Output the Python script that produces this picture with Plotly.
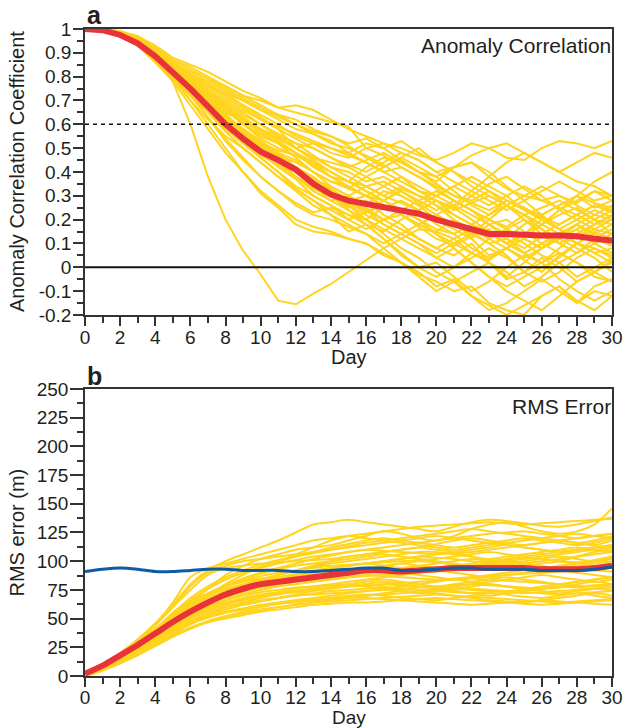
import plotly.graph_objects as go

DAYS = list(range(31))

# ---- Panel a: anomaly correlation (ensemble members, daily values day 0..30)
ACC_MEMBERS = [
    [1,1,.99,.97,.93,.88,.85,.82,.78,.74, .71,.67,.68,.66,.62,.58,.55,.52,.50,.47, .45,.48,.52,.50,.46,.45,.50,.53,.52,.50,.53],
    [1,1,.99,.96,.92,.87,.84,.80,.76,.72, .70,.67,.65,.63,.61,.59,.50,.52,.48,.45, .40,.42,.44,.38,.33,.30,.28,.30,.27,.32,.30],
    [1,.995,.98,.95,.89,.83,.77,.70,.64,.58, .52,.48,.45,.40,.36,.34,.30,.28,.32,.27, .22,.18,.15,.10,.12,.08,.13,.10,.14,.12,.09],
    [1,.99,.97,.93,.86,.78,.68,.58,.48,.40, .32,.26,.20,.17,.15,.12,.10,.05,.02,-.03, -.06,-.10,-.08,-.15,-.18,-.20,-.12,-.08,-.15,-.10,-.12],
    [1,.995,.98,.95,.89,.78,.60,.38,.20,.07, -.03,-.14,-.155,-.11,-.07,-.02,.03,.08,.12,.16, .15,.20,.12,.05,.08,.03,-.02,.05,.10,.06,.02],
    [1,1,.99,.96,.91,.85,.80,.76,.72,.68, .64,.60,.55,.52,.50,.48,.52,.50,.45,.40, .35,.30,.28,.32,.26,.22,.18,.22,.25,.20,.24],
    [1,.99,.98,.94,.88,.81,.74,.66,.60,.55, .50,.46,.40,.35,.30,.25,.28,.22,.18,.12, .08,.05,.10,.02,-.05,-.02,.04,.00,-.06,-.02,.03],
    [1,1,.98,.95,.90,.84,.79,.73,.68,.62, .58,.55,.52,.47,.42,.40,.36,.38,.34,.30, .28,.25,.30,.35,.38,.33,.28,.25,.22,.18,.20],
    [1,.99,.97,.93,.87,.80,.72,.63,.54,.46, .38,.32,.27,.23,.25,.22,.18,.15,.20,.24, .28,.25,.20,.15,.12,.18,.22,.26,.30,.25,.28],
    [1,1,.99,.96,.91,.86,.81,.78,.74,.70, .66,.62,.58,.56,.53,.48,.44,.40,.42,.38, .33,.28,.24,.20,.17,.22,.18,.14,.10,.15,.12],
    [1,.995,.98,.95,.89,.82,.75,.68,.63,.57, .50,.45,.38,.32,.28,.30,.25,.20,.22,.18, .15,.12,.06,.02,-.04,.02,.08,.12,.08,.04,-.02],
    [1,.99,.97,.94,.88,.80,.70,.60,.50,.40, .31,.25,.18,.15,.14,.12,.10,.06,.02,-.02, -.08,-.05,-.12,-.18,-.15,-.10,-.05,-.10,-.15,-.08,-.05],
    [1,1,.98,.96,.91,.85,.79,.75,.71,.67, .62,.58,.50,.46,.44,.42,.45,.48,.44,.40, .38,.42,.47,.50,.52,.48,.44,.40,.36,.34,.30],
    [1,.99,.98,.95,.90,.83,.76,.70,.63,.58, .53,.47,.44,.40,.34,.30,.26,.32,.30,.26, .20,.16,.12,.18,.14,.10,.05,.02,.06,.12,.16],
    [1,1,.99,.96,.92,.86,.80,.74,.67,.60, .55,.52,.48,.44,.38,.33,.30,.26,.22,.18, .22,.26,.22,.18,.20,.15,.10,.14,.18,.22,.20],
    [1,.99,.97,.93,.86,.79,.70,.62,.55,.50, .44,.38,.32,.26,.22,.15,.18,.12,.05,.00, .02,-.04,-.10,-.06,.00,.05,.02,-.05,-.10,-.14,-.10],
    [1,.995,.98,.95,.90,.84,.78,.71,.64,.57, .52,.49,.47,.44,.40,.36,.34,.30,.27,.24, .28,.22,.18,.15,.10,.14,.20,.16,.12,.18,.22],
    [1,1,.99,.97,.92,.86,.80,.76,.73,.70, .66,.64,.60,.56,.52,.50,.47,.43,.38,.32, .28,.24,.27,.30,.26,.22,.25,.28,.24,.20,.18],
    [1,.99,.97,.94,.88,.81,.73,.66,.60,.54, .48,.42,.37,.30,.26,.22,.20,.25,.28,.24, .18,.14,.08,.04,.08,.12,.08,.14,.18,.12,.10],
    [1,.995,.98,.95,.89,.83,.76,.69,.62,.55, .47,.43,.38,.33,.30,.28,.24,.18,.14,.10, .06,.10,.14,.10,.05,-.02,-.06,-.02,.04,.08,.05],
    [1,1,.98,.96,.91,.86,.82,.79,.76,.72, .68,.64,.62,.58,.55,.51,.46,.42,.46,.50, .44,.40,.34,.30,.26,.20,.14,.18,.22,.26,.24],
    [1,.99,.97,.93,.87,.80,.74,.68,.63,.58, .53,.48,.42,.38,.32,.27,.23,.26,.22,.17, .12,.09,.13,.16,.10,.06,.10,.14,.10,.06,.08],
    [1,.995,.98,.95,.90,.84,.77,.70,.62,.57, .52,.46,.40,.37,.34,.30,.34,.36,.32,.28, .24,.28,.24,.20,.16,.12,.08,.12,.16,.10,.06],
    [1,1,.99,.96,.91,.85,.79,.72,.66,.60, .54,.50,.47,.43,.38,.34,.30,.26,.22,.18, .14,.10,.06,.03,.08,.14,.18,.24,.20,.16,.20],
    [1,.99,.97,.94,.88,.82,.75,.68,.61,.55, .50,.44,.38,.34,.30,.26,.22,.18,.14,.10, .04,.00,.04,.08,.04,-.02,.02,.06,.02,-.04,-.06],
    [1,.995,.98,.95,.90,.84,.78,.72,.66,.60, .56,.52,.46,.40,.36,.33,.38,.42,.46,.42, .38,.32,.26,.22,.26,.30,.34,.30,.26,.22,.26],
    [1,.99,.97,.94,.88,.81,.74,.67,.62,.56, .50,.45,.40,.34,.28,.24,.20,.16,.12,.08, .04,.08,.02,-.04,-.10,-.14,-.18,-.12,-.06,-.02,.02],
    [1,1,.99,.96,.92,.86,.80,.74,.69,.64, .60,.55,.50,.46,.42,.38,.34,.30,.34,.30, .26,.20,.16,.12,.16,.20,.16,.12,.16,.20,.14],
    [1,.99,.98,.94,.89,.82,.75,.67,.60,.53, .46,.40,.33,.28,.22,.18,.14,.10,.14,.18, .22,.18,.14,.20,.26,.22,.16,.10,.06,.10,.14],
    [1,.995,.98,.95,.90,.84,.77,.71,.65,.61, .58,.54,.50,.45,.40,.36,.32,.28,.24,.28, .32,.28,.24,.18,.12,.06,.02,.08,.14,.18,.22],
    [1,1,.98,.95,.90,.83,.76,.70,.64,.58, .52,.47,.41,.36,.30,.26,.20,.14,.08,.04, -.02,-.06,-.02,.02,-.02,-.08,-.04,.02,-.04,.00,.04],
    [1,.99,.97,.93,.87,.80,.73,.66,.60,.54, .48,.44,.40,.36,.32,.28,.30,.34,.38,.34, .30,.26,.32,.38,.44,.48,.44,.40,.44,.48,.46],
    [1,1,.99,.96,.91,.85,.79,.73,.68,.63, .58,.53,.48,.42,.38,.36,.32,.28,.24,.20, .16,.14,.18,.14,.10,.06,.10,.06,.02,-.02,-.06],
    [1,.995,.98,.95,.89,.82,.74,.66,.58,.52, .46,.40,.34,.30,.26,.20,.16,.20,.24,.20, .14,.08,.02,-.04,-.08,-.04,.00,.04,.10,.14,.18],
    [1,1,.99,.96,.92,.86,.81,.77,.73,.68, .63,.58,.54,.50,.46,.42,.38,.34,.30,.26, .30,.34,.30,.26,.30,.34,.30,.24,.28,.32,.28],
    [1,.99,.97,.94,.89,.82,.73,.63,.53,.45, .38,.32,.26,.22,.20,.17,.14,.08,.02,-.04, -.10,-.06,-.12,-.16,-.20,-.16,-.12,-.08,-.14,-.18,-.12],
    [1,.995,.98,.95,.90,.84,.78,.72,.67,.62, .57,.52,.48,.44,.40,.36,.42,.46,.44,.40, .36,.42,.44,.40,.34,.28,.22,.16,.10,.08,.04],
    [1,.99,.98,.94,.88,.81,.74,.68,.62,.56, .51,.46,.42,.36,.30,.24,.18,.12,.06,.00, -.04,.00,.06,.12,.16,.12,.18,.24,.30,.36,.40],
    [1,1,.99,.96,.92,.87,.83,.79,.75,.71, .67,.63,.60,.57,.55,.52,.54,.50,.53,.48, .44,.40,.36,.32,.28,.24,.22,.26,.30,.27,.25],
    [1,.995,.98,.95,.90,.84,.78,.72,.66,.61, .57,.54,.50,.52,.48,.46,.50,.47,.42,.38, .34,.30,.27,.24,.28,.25,.21,.18,.22,.26,.23],
    [1,.99,.97,.94,.88,.81,.73,.65,.57,.50, .44,.38,.33,.28,.24,.20,.23,.28,.33,.30, .26,.22,.18,.22,.28,.25,.20,.16,.20,.24,.21],
    [1,1,.98,.95,.90,.84,.78,.73,.69,.65, .60,.56,.52,.50,.46,.43,.40,.44,.48,.45, .40,.36,.32,.28,.24,.28,.32,.36,.32,.28,.30],
    [1,.99,.98,.95,.89,.82,.74,.67,.61,.56, .51,.46,.41,.37,.33,.28,.24,.20,.16,.12, .08,.12,.16,.12,.08,.04,.08,.12,.18,.14,.10],
    [1,.995,.98,.96,.91,.85,.79,.74,.70,.66, .62,.59,.56,.53,.50,.47,.44,.40,.36,.32, .30,.34,.38,.34,.30,.24,.20,.16,.12,.16,.14],
]
ACC_MEAN = [1.0,.995,.975,.94,.885,.82,.75,.675,.60,.54,
            .485,.45,.41,.35,.305,.28,.267,.255,.24,.225,
            .20,.18,.16,.14,.14,.135,.133,.133,.13,.12,.112]
ACC_THRESHOLD = 0.6
ACC_TICKVALS = [1, 0.9, 0.8, 0.7, 0.6, 0.5, 0.4, 0.3, 0.2, 0.1, 0, -0.1, -0.2]
ACC_TICKTEXT = ["1", "0.9", "0.8", "0.7", "0.6", "0.5", "0.4", "0.3", "0.2", "0.1", "0", "-0.1", "-0.2"]

# ---- Panel b: RMS error (m)
RMS_MEMBERS = [
    [0,9,20,32,46,62,80,92,100,106, 112,118,125,132,134,136,134,132,130,128, 126,130,134,136,135,133,131,130,132,135,138],
    [0,7,16,26,38,50,63,76,88,96, 102,106,110,112,114,118,122,126,124,120, 118,122,128,132,134,130,126,124,126,132,146],
    [0,6,14,24,34,44,55,64,72,78, 84,88,92,96,100,104,106,108,110,112, 115,118,120,118,116,114,116,118,120,122,124],
    [0,6,13,21,30,38,46,51,55,58, 61,63,64,66,68,70,71,70,68,67, 66,68,70,72,71,69,68,70,72,70,68],
    [0,5,12,20,28,36,42,47,50,53, 56,58,60,62,63,64,64,65,66,67, 68,67,66,65,64,63,62,63,64,65,66],
    [0,7,17,28,40,52,62,70,76,80, 84,88,92,95,98,100,102,104,106,108, 108,106,104,102,104,106,108,110,112,110,108],
    [0,8,18,29,41,53,64,72,78,82, 85,86,88,89,90,92,94,96,98,96, 94,92,94,96,98,100,102,104,102,100,104],
    [0,6,14,23,33,43,52,60,66,70, 73,75,77,78,79,80,82,84,82,80, 78,80,82,84,86,84,82,80,82,84,86],
    [0,7,15,25,36,48,60,70,80,88, 95,100,104,108,112,115,118,120,118,116, 114,112,114,116,118,120,118,116,114,116,120],
    [0,6,13,22,31,40,48,54,58,62, 65,68,70,72,74,75,76,77,76,75, 74,73,72,73,74,75,76,78,77,76,75],
    [0,8,18,30,45,64,86,94,98,102, 106,110,114,118,120,122,120,118,116,114, 112,110,112,114,116,118,120,122,124,122,120],
    [0,7,16,26,37,48,58,66,72,76, 79,82,84,86,88,89,90,92,93,94, 92,90,88,86,88,90,92,94,96,98,100],
    [0,6,14,23,33,43,52,59,64,68, 71,73,74,76,78,80,78,76,74,72, 74,76,78,80,78,76,74,72,74,76,78],
    [0,7,16,27,39,51,62,71,78,83, 87,90,92,94,96,97,98,99,100,101, 102,104,106,108,106,104,102,100,98,100,102],
    [0,6,13,21,30,39,47,53,58,62, 65,68,71,74,76,78,80,82,80,78, 76,74,72,70,72,74,76,78,80,82,80],
    [0,7,15,25,36,47,57,65,71,76, 80,84,87,90,93,96,98,100,102,104, 106,108,110,112,114,112,110,108,110,112,114],
    [0,5,12,19,27,35,42,47,51,54, 57,60,62,64,66,68,70,72,74,73, 72,70,68,66,65,64,66,68,70,72,70],
    [0,8,19,31,44,60,78,90,96,100, 102,104,106,108,110,112,114,116,118,120, 122,120,118,116,114,112,110,108,110,112,114],
    [0,6,14,24,34,45,55,63,69,74, 78,81,84,86,88,90,91,92,90,88, 86,84,86,88,90,92,94,92,90,88,86],
    [0,6,13,22,32,42,51,58,63,67, 70,72,74,76,78,79,80,78,76,75, 76,78,80,82,84,86,88,86,84,82,84],
    [0,7,16,27,38,50,60,68,74,79, 83,86,89,92,94,96,98,100,102,104, 103,102,100,98,96,98,100,102,104,106,108],
    [0,5,11,19,27,35,42,48,52,55, 58,60,62,64,65,66,67,68,69,70, 71,70,69,68,67,66,65,64,65,66,67],
    [0,7,17,28,40,52,63,72,79,85, 90,94,98,102,105,108,110,112,114,116, 118,120,122,124,125,126,124,122,120,122,124],
    [0,6,14,23,33,43,52,60,66,71, 75,78,80,82,84,86,88,87,86,85, 84,85,86,87,88,89,90,91,92,93,94],
    [0,6,13,21,30,39,47,54,60,64, 68,71,73,75,77,78,79,80,81,82, 83,84,85,84,83,82,81,80,79,78,80],
    [0,8,19,31,45,60,75,88,94,96, 98,99,100,101,102,104,106,108,110,112, 110,108,104,100,98,96,98,100,104,108,110],
    [0,6,14,23,32,42,51,58,63,67, 70,73,76,78,80,82,84,86,88,90, 92,94,96,98,100,98,96,94,92,94,96],
    [0,5,12,20,29,38,46,52,56,59, 62,64,66,67,68,69,70,71,72,73, 74,75,76,75,74,73,72,71,72,73,74],
    [0,7,16,26,37,48,58,66,72,77, 81,85,88,91,94,96,98,96,94,92, 94,96,98,100,102,104,106,108,110,112,114],
    [0,6,14,24,35,46,56,64,70,74, 77,80,82,84,85,86,87,88,89,90, 91,92,93,94,95,96,95,94,93,92,91],
    [0,5,11,18,26,34,41,47,52,56, 60,63,66,68,70,72,74,76,78,80, 82,84,82,80,78,76,78,80,82,84,86],
    [0,7,16,27,38,50,61,70,78,84, 89,93,96,98,100,102,104,106,104,102, 100,98,96,98,100,102,104,106,108,110,112],
    [0,6,13,22,31,41,50,57,62,66, 69,72,74,76,77,78,79,80,79,78, 77,76,75,74,73,72,73,74,75,76,77],
    [0,6,14,23,33,44,54,62,68,73, 77,80,83,85,87,89,92,95,98,100, 99,97,96,98,101,103,102,100,99,101,104],
    [0,5,12,20,28,37,45,51,55,58, 61,63,65,66,67,68,68,67,66,65, 64,63,62,63,64,65,66,65,64,63,62],
    [0,8,18,29,41,54,66,76,84,90, 95,100,106,112,118,122,124,126,128,130, 131,132,133,134,133,132,133,134,135,136,137],
    [0,7,16,27,39,52,65,76,84,90, 94,98,101,104,106,108,110,109,108,107, 106,107,108,110,112,114,116,118,116,114,118],
    [0,6,15,25,36,47,57,65,71,75, 78,80,82,84,86,88,90,92,94,96, 98,100,102,100,98,96,94,96,98,100,102],
    [0,6,13,22,32,42,50,56,60,63, 66,68,70,71,72,73,74,75,76,77, 78,79,80,79,78,77,76,77,78,79,80],
    [0,7,17,28,41,55,68,78,86,92, 97,101,104,107,110,113,116,118,120,122, 124,126,128,126,124,122,120,118,116,118,122],
]
RMS_MEAN = [2,9,18,27,37,47,56,64,71,76,
            80,82,84,86,88,90,92,92,91,92,
            93,94,94,94,94,94,93,93,93,94,96]
RMS_CLIM = [91,93,94,93,91,91,92,93,93,92,
            92,92,91,91,92,93,94,94,92,92,
            93,94,94,93,93,93,92,92,92,93,95]
RMS_TICKVALS = [0, 25, 50, 75, 100, 125, 150, 175, 200, 225, 250]
DAY_TICKVALS = list(range(0, 31, 2))

YELLOW = "#FFD41F"
RED = "#EA3338"
BLUE = "#0E5BA3"
INK = "#231F20"
AXC = "#333333"
FONT = "Liberation Sans, Arial, Helvetica, sans-serif"

fig = go.Figure()

for m in ACC_MEMBERS:
    fig.add_trace(go.Scatter(x=DAYS[:len(m)], y=m, mode="lines",
                             line=dict(color=YELLOW, width=2),
                             xaxis="x", yaxis="y", showlegend=False, hoverinfo="skip"))
fig.add_trace(go.Scatter(x=DAYS, y=ACC_MEAN, mode="lines",
                         line=dict(color=RED, width=6),
                         xaxis="x", yaxis="y", showlegend=False))

for m in RMS_MEMBERS:
    fig.add_trace(go.Scatter(x=DAYS[:len(m)], y=m, mode="lines",
                             line=dict(color=YELLOW, width=2, shape="spline", smoothing=0.8),
                             xaxis="x2", yaxis="y2", showlegend=False, hoverinfo="skip"))
fig.add_trace(go.Scatter(x=DAYS, y=RMS_MEAN, mode="lines",
                         line=dict(color=RED, width=6, shape="spline", smoothing=0.8),
                         xaxis="x2", yaxis="y2", showlegend=False))
fig.add_trace(go.Scatter(x=DAYS, y=RMS_CLIM, mode="lines",
                         line=dict(color=BLUE, width=3, shape="spline", smoothing=0.8),
                         xaxis="x2", yaxis="y2", showlegend=False))


def axis(major_len, **kw):
    d = dict(showline=True, mirror=True, linecolor=AXC, linewidth=1.5,
             ticks="outside", ticklen=major_len, tickwidth=1.5, tickcolor=AXC,
             showgrid=False, zeroline=False,
             tickfont=dict(family=FONT, size=19, color=INK))
    d.update(kw)
    return d


def minor(step):
    return dict(dtick=step, tick0=0, ticks="outside", ticklen=6, tickwidth=1.5, tickcolor=AXC)


fig.update_layout(
    width=635, height=728,
    margin=dict(l=85, r=14, t=29, b=52),
    paper_bgcolor="white", plot_bgcolor="white",
    font=dict(family=FONT, size=20, color=INK),
    xaxis=axis(9, domain=[0, 1], range=[0, 30], anchor="y",
               tickmode="array", tickvals=DAY_TICKVALS, minor=minor(1),
               ticklabelstandoff=-5),
    yaxis=axis(10, domain=[0.558, 1], range=[-0.2, 1], anchor="x",
               tickmode="array", tickvals=ACC_TICKVALS, ticktext=ACC_TICKTEXT,
               minor=minor(0.05), ticklabelstandoff=-2),
    xaxis2=axis(9, domain=[0, 1], range=[0, 30], anchor="y2",
                tickmode="array", tickvals=DAY_TICKVALS, minor=minor(1),
                ticklabelstandoff=-6),
    yaxis2=axis(13, domain=[0, 0.4436], range=[0, 250], anchor="x2",
                tickmode="array", tickvals=RMS_TICKVALS, minor=minor(12.5),
                ticklabelstandoff=-2),
)

# reference lines in panel a (drawn above the members)
fig.add_shape(type="line", xref="x domain", yref="y", x0=0, x1=1, y0=ACC_THRESHOLD, y1=ACC_THRESHOLD,
              line=dict(color="#111111", width=1.5, dash="4px,4px"), layer="above")
fig.add_shape(type="line", xref="x domain", yref="y", x0=0, x1=1, y0=0, y1=0,
              line=dict(color="#111111", width=2), layer="above")

ann = []
ann.append(dict(text="<b>a</b>", xref="paper", yref="y domain", x=0, y=1, xanchor="left", yanchor="bottom",
                yshift=-2, showarrow=False, font=dict(size=25, family=FONT, color=INK)))
ann.append(dict(text="<b>b</b>", xref="paper", yref="y2 domain", x=0, y=1, xanchor="left", yanchor="bottom",
                yshift=-3, showarrow=False, font=dict(size=25, family=FONT, color=INK)))
ann.append(dict(text="Anomaly Correlation", xref="x domain", yref="y domain", x=1, y=1,
                xanchor="right", yanchor="top", xshift=1, yshift=-3, showarrow=False,
                font=dict(size=21, family=FONT, color=INK)))
ann.append(dict(text="RMS Error", xref="x2 domain", yref="y2 domain", x=1, y=1,
                xanchor="right", yanchor="top", xshift=1, yshift=-4, showarrow=False,
                font=dict(size=21, family=FONT, color=INK)))
ann.append(dict(text="Anomaly Correlation Coefficient", xref="paper", yref="y domain", x=0, y=0.5,
                xanchor="center", yanchor="middle", xshift=-68, textangle=-90, showarrow=False,
                font=dict(size=20, family=FONT, color=INK)))
ann.append(dict(text="RMS error (m)", xref="paper", yref="y2 domain", x=0, y=0.5,
                xanchor="center", yanchor="middle", xshift=-68, textangle=-90, showarrow=False,
                font=dict(size=20, family=FONT, color=INK)))
ann.append(dict(text="Day", xref="x domain", yref="y domain", x=0.5, y=0,
                xanchor="center", yanchor="top", yshift=-29, showarrow=False,
                font=dict(size=20, family=FONT, color=INK)))
ann.append(dict(text="Day", xref="x2 domain", yref="y2 domain", x=0.5, y=0,
                xanchor="center", yanchor="top", yshift=-29, showarrow=False,
                font=dict(size=19, family=FONT, color=INK)))
fig.update_layout(annotations=ann)

fig.write_html("out.html")
